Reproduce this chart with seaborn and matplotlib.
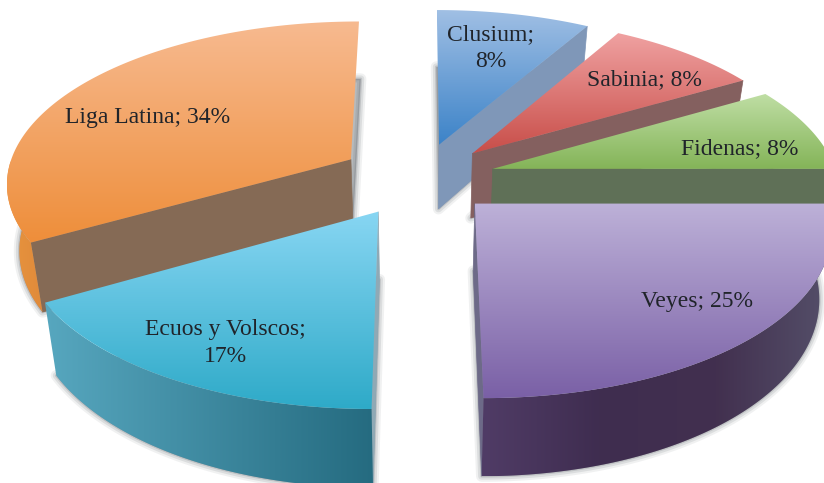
import numpy as np
import matplotlib
matplotlib.use("Agg")
import matplotlib.pyplot as plt
from matplotlib.patches import Polygon
import seaborn as sns

# datos
names = ["Veyes", "Ecuos y Volscos", "Liga Latina", "Clusium", "Sabinia", "Fidenas"]
label_pct = [25, 17, 34, 8, 8, 8]
# tamano de cada sector (la etiqueta de Liga Latina redondea hacia arriba)
drawn_pct = [25, 16.7, 33.3, 8.3, 8.3, 8.4]

# estilo
top_colors = [["#bdb1d8", "#7a60a6"], ["#88d6f3", "#2eaac8"], ["#f7ba90", "#ee8e3a"],
              ["#a0bfe4", "#3c83c8"], ["#f0a2a2", "#c84e49"], ["#bfdea4", "#84b458"]]
arc_colors = [["#503c66", "#3f2d50", "#42304f", "#55506a"], ["#57a7bf", "#256b80"],
              ["#e8953f", "#e08a3a"], None, None, None]
face_colors = ["#6d6a88", "#8fa9b5", "#856a55", "#7f97b8", "#84605f", "#5f7057"]
face_side = ["end", "start", "start", "end", "end", "end"]
draw_order = [3, 4, 5, 2, 1, 0]
explode = [0.22, 0.235, 0.235, 0.22, 0.22, 0.22]
label_xy = [(697, 301), (225, 343), (148, 117), (491, 48), (644, 80), (740, 149)]
label_text = [f"{names[0]}; {label_pct[0]}%", f"{names[1]};\n{label_pct[1]}%",
              f"{names[2]}; {label_pct[2]}%", f"{names[3]};\n{label_pct[3]}%",
              f"{names[4]}; {label_pct[4]}%", f"{names[5]}; {label_pct[5]}%"]

CX, CY, RX, RY, K, DEPTH = 420, 178, 345, 161, 0.134, 66

sns.set_theme(style="white")
plt.rcParams["font.family"] = ["Liberation Serif", "DejaVu Serif"]


def project(u, v, z=0.0):
    w = 1 + K * v
    x = CX + RX * u / w
    y = CY - RY * v / w
    x = CX + (x - CX) * (1 - 0.03 * z)
    y = y + DEPTH * z / w
    return np.column_stack([x, y])


def gradient_fill(ax, verts, colors, vertical=True, zorder=2):
    cmap = sns.blend_palette(colors, as_cmap=True)
    ramp = np.linspace(0, 1, 256)
    data = ramp[:, None] if vertical else ramp[None, :]
    x0, y0 = verts.min(axis=0)
    x1, y1 = verts.max(axis=0)
    img = ax.imshow(data, cmap=cmap, extent=(x0, x1, y1, y0), origin="upper",
                    aspect="auto", interpolation="bilinear", zorder=zorder)
    clip = Polygon(verts, closed=True, transform=ax.transData, fc="none", ec="none")
    ax.add_patch(clip)
    img.set_clip_path(clip)


fig = plt.figure(figsize=(8.24, 4.83), dpi=100)
ax = fig.add_axes([0, 0, 1, 1])

# angulos de cada sector, en sentido horario desde el este
ends = 360 - np.cumsum(drawn_pct) / sum(drawn_pct) * 360
starts = np.r_[360, ends[:-1]]

z = 2
for i in draw_order:
    a0, a1 = np.radians(starts[i]), np.radians(ends[i])
    mid = (a0 + a1) / 2
    ou, ov = explode[i] * np.cos(mid), explode[i] * np.sin(mid)
    t = np.linspace(a0, a1, 120)
    au, av = ou + np.cos(t), ov + np.sin(t)

    top = np.vstack([project(np.array([ou]), np.array([ov])), project(au, av)])
    bottom = np.vstack([project(np.array([ou]), np.array([ov]), 1), project(au, av, 1)])

    # sombra
    for lw, alpha in [(8, 0.08), (5, 0.12), (2, 0.18)]:
        ax.add_patch(Polygon(bottom, closed=True, fc="#4a5058", ec="#4a5058", lw=lw,
                             alpha=alpha, joinstyle="round", zorder=z))
    z += 1

    # cara radial
    side = a0 if face_side[i] == "start" else a1
    su, sv = np.array([ou, ou + np.cos(side)]), np.array([ov, ov + np.sin(side)])
    face = np.vstack([project(su, sv), project(su[::-1], sv[::-1], 1)])
    ax.add_patch(Polygon(face, closed=True, fc=face_colors[i], ec=face_colors[i], lw=0.5, zorder=z))
    z += 1

    # pared curva (solo la parte de delante)
    if arc_colors[i] is not None:
        front = np.sin(t) <= 0
        wall = np.vstack([project(au[front], av[front]), project(au[front][::-1], av[front][::-1], 1)])
        gradient_fill(ax, wall, arc_colors[i], vertical=False, zorder=z)
        z += 1

    # cara superior
    gradient_fill(ax, top, top_colors[i], zorder=z)
    z += 1

for (x, y), text in zip(label_xy, label_text):
    ax.text(x, y, text, ha="center", va="center", fontsize=17, color="#20242a",
            linespacing=1.35, zorder=z)

ax.set_xlim(0, 824)
ax.set_ylim(483, 0)
ax.axis("off")
fig.savefig("out.png", dpi=100, facecolor="white")
